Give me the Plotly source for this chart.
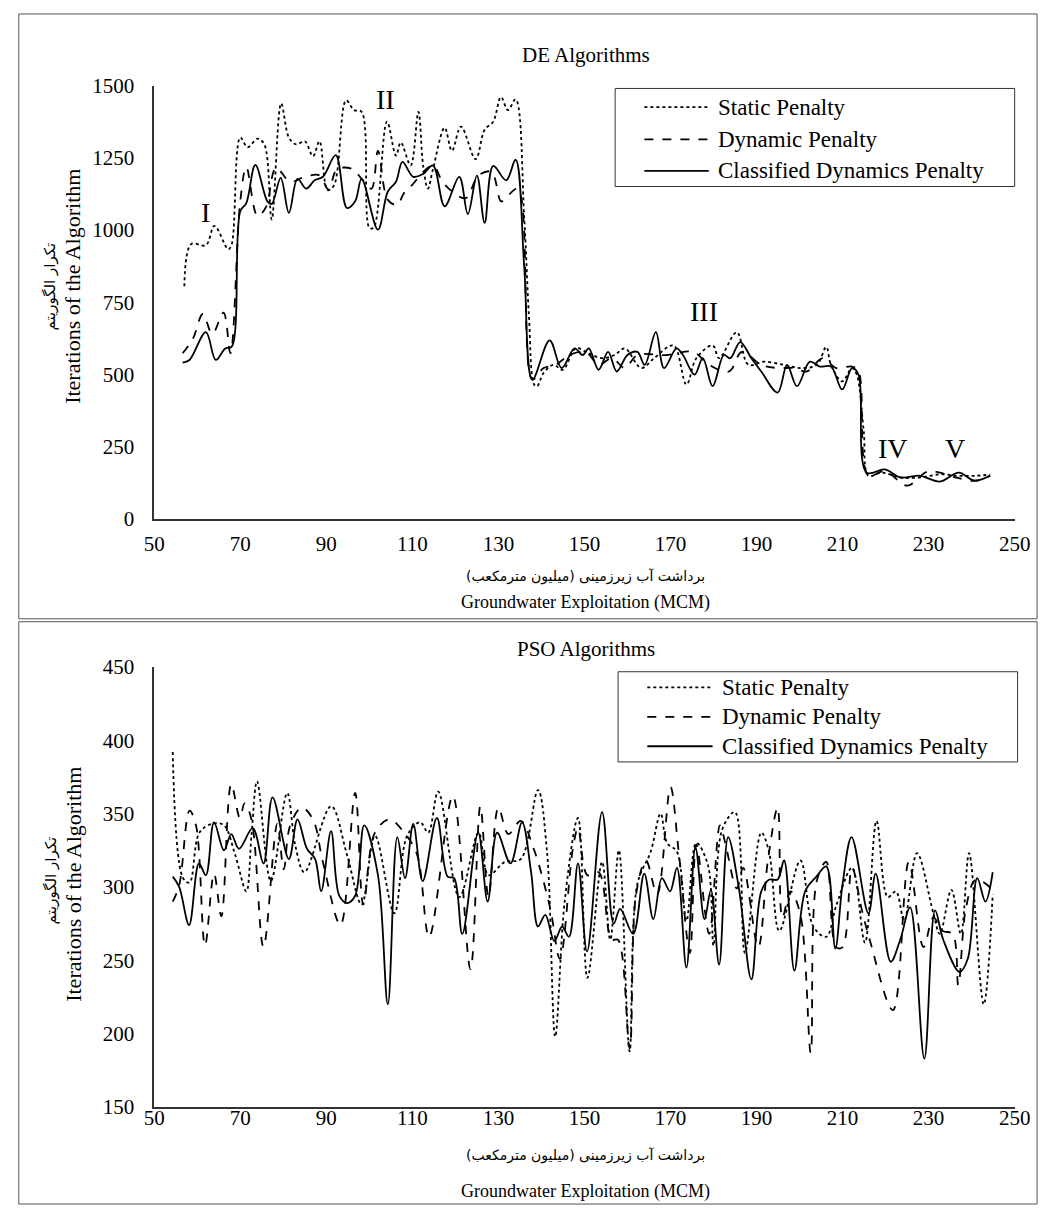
import plotly.graph_objects as go

W, H = 1056, 1218

# ---------------- DATA ----------------
legend_names = ["Static Penalty", "Dynamic Penalty", "Classified Dynamics Penalty"]

# DE Algorithms
de_static_x = [57, 58.6, 62, 64, 67.2, 68, 70, 71.7, 74, 75.6, 77.3, 79.5, 81.3, 83, 85, 86.9, 88.4, 90.3, 91.8, 94.6,
               96.4, 98.2, 100, 101, 104.1, 106.2, 107.3, 109.6, 111.4, 112.5, 113.6, 114.8, 117.5, 119.2, 121.3, 124.7,
               126.8, 128.8, 130.6, 132.2, 134, 136, 137.1, 138.3, 139, 140.5, 142.8, 145, 148, 151, 154, 157, 159.4,
               163.2, 166.2, 170.7, 173.7, 176, 179.8, 181.3, 185.4, 188.1, 191.8, 196.3, 200.2, 204, 206.2, 207.3,
               209.9, 212.2, 213.3, 214.9, 216, 219, 223.5, 228, 232.6, 237, 241, 244.3]
de_static_y = [805, 951, 947, 1014, 933, 950, 1320, 1286, 1316, 1296, 1036, 1438, 1320, 1296, 1307, 1255, 1307, 1138,
               1155, 1449, 1415, 1409, 1008, 1008, 1375, 1257, 1303, 1223, 1409, 1223, 1143, 1211, 1354, 1274, 1358,
               1245, 1347, 1375, 1460, 1415, 1452, 1042, 702, 465, 459, 505, 533, 516, 590, 573, 556, 567, 590, 522,
               556, 600, 465, 556, 600, 556, 646, 533, 544, 533, 522, 533, 595, 533, 476, 522, 499, 306, 149, 160, 143,
               143, 154, 149, 149, 153]

de_dynamic_x = [56.6, 59, 61.3, 63.5, 66.1, 67.7, 70, 71.4, 74, 76, 78.3, 81.6, 85, 88.4, 90.5, 92.5, 96, 98.2, 100.5,
                102, 104.3, 106.5, 108, 110.2, 112.5, 114.8, 117, 119.3, 122.4, 125.4, 128.4, 130.6, 131.7, 134.5,
                137.9, 140.5, 143.3, 146.5, 150.3, 153.3, 156.4, 159.4, 162.3, 169, 175.2, 179, 183.6, 186.6, 191.1,
                194.9, 198.6, 201.7, 205.4, 208.5, 212.2, 213.7, 216, 219.8, 225, 229.6, 232.6, 236.4, 241, 244.3]
de_dynamic_y = [573, 624, 709, 640, 714, 573, 1100, 1218, 1048, 1080, 1215, 1167, 1184, 1189, 1140, 1210, 1211, 1177,
                1143, 1274, 1104, 1087, 1126, 1160, 1201, 1223, 1167, 1133, 1110, 1189, 1201, 1099, 1110, 1143, 482,
                522, 533, 567, 578, 533, 556, 522, 567, 567, 578, 533, 510, 578, 533, 522, 522, 510, 556, 522, 527,
                510, 149, 166, 115, 163, 160, 143, 132, 149]

de_classified_x = [56.6, 58.2, 62, 64.3, 66.5, 68, 70, 71.4, 73.5, 76.3, 77.3, 79.4, 81.3, 83.3, 85.3, 87.3, 89.2,
                   92.2, 94.8, 96.7, 98.2, 102, 104.3, 106.2, 107.7, 110.2, 112.5, 114.8, 117.5, 120.9, 122.9, 125,
                   126.8, 128.8, 131.8, 134, 136, 137.9, 141.9, 144.7, 147.7, 149.6, 151, 153.3, 155.5, 157.5, 160,
                   162.3, 164, 166.6, 168.5, 171.4, 172.9, 175.6, 177.5, 179.8, 182.4, 183.9, 186.2, 188.8, 191.1,
                   194.9, 197.1, 199.4, 202.4, 204.7, 207.3, 209.9, 212.2, 213.7, 215.6, 219.8, 223.5, 228, 232.6,
                   237, 240.7, 244.3]
de_classified_y = [541, 550, 646, 550, 590, 596, 1065, 1093, 1225, 1099, 1090, 1180, 1059, 1177, 1143, 1172, 1184,
                   1259, 1076, 1099, 1177, 1001, 1133, 1167, 1236, 1184, 1194, 1223, 1082, 1184, 1055, 1188, 1025,
                   1222, 1172, 1243, 872, 482, 618, 522, 590, 567, 590, 516, 578, 510, 567, 578, 533, 646, 522, 590,
                   567, 499, 556, 459, 567, 556, 612, 556, 510, 437, 533, 459, 544, 527, 527, 448, 522, 499, 160,
                   171, 143, 149, 129, 160, 132, 150]

# PSO Algorithms
pso_static_x = [54.3, 56.7, 58.2, 60.5, 63.5, 66.2, 68.8, 71.4, 72.6, 73.9, 77.1, 80.9, 82.8, 84.9, 91.1, 94.8, 98.2,
                101.3, 105.8, 108.8, 111.8, 113.7, 116, 120.9, 125.4, 127.7, 131.5, 135.2, 139.2, 141.3, 143.2,
                145.4, 148.5, 150.7, 154.1, 156, 158, 160.5, 162.3, 165.4, 167.7, 169.2, 171.5, 173.7, 176, 178.7,
                180, 182, 185, 187.3, 191.1, 192.9, 195.3, 200.2, 203.2, 206.2, 208.6, 212.2, 215.2, 217.9, 220.5,
                222.4, 224.3, 227.3, 231.1, 232.6, 235.3, 237.5, 239.4, 242.8, 244.9]
pso_static_y = [392, 306, 303, 337, 343, 342, 322, 297, 335, 372, 304, 364, 328, 310, 355, 322, 288, 335, 282, 335,
                344, 337, 365, 293, 337, 308, 317, 319, 366, 324, 198, 290, 347, 238, 317, 264, 325, 188, 302, 324,
                350, 330, 324, 277, 330, 315, 260, 339, 351, 255, 337, 324, 270, 318, 273, 266, 288, 313, 262, 345,
                293, 297, 277, 323, 282, 268, 298, 268, 323, 220, 295]

pso_dynamic_x = [54.3, 55.8, 58.2, 59.7, 61.8, 63.9, 65.6, 67.9, 69.9, 71, 72.6, 75.4, 78.6, 80.1, 81.6, 84.3, 86.9,
                 89.2, 93.3, 96.7, 98.6, 101.3, 104.7, 108.1, 111.1, 113.9, 119.4, 123.5, 125.8, 127.7, 130, 132.3,
                 135.2, 138.2, 142, 144.3, 147.3, 148.5, 150.7, 153.3, 156.3, 157.8, 160.5, 162, 164.3, 166.9, 170,
                 171.9, 174.5, 176, 179, 181.5, 182.8, 185.4, 186.9, 190.4, 192.6, 194.9, 196, 197.9, 200.2, 202.6,
                 204, 206.2, 208.5, 210, 212.2, 214.5, 216.4, 221.7, 225.4, 228.8, 231.1, 233.3, 235.6, 236.9,
                 238.7, 241, 244.9]
pso_dynamic_y = [290, 301, 352, 342, 260, 309, 280, 370, 347, 357, 346, 259, 343, 312, 342, 354, 346, 317, 274, 364,
                 288, 337, 346, 337, 322, 266, 362, 244, 355, 293, 354, 336, 345, 326, 286, 251, 326, 340, 308, 310,
                 264, 264, 190, 295, 318, 295, 368, 324, 255, 329, 268, 342, 329, 299, 313, 259, 317, 354, 279, 297,
                 281, 187, 304, 317, 259, 259, 313, 284, 263, 216, 317, 259, 279, 270, 268, 233, 286, 305, 298]

pso_classified_x = [54.3, 55.8, 58.1, 60.4, 62, 63.9, 66.2, 67.9, 69.7, 72.9, 75.4, 77.5, 81.3, 83.3, 85.5, 87.4,
                    88.8, 91.1, 93, 94.8, 96.7, 98.8, 102, 104.3, 106.5, 108.3, 110.2, 112.4, 115.7, 118.2, 119.7,
                    121.6, 125.3, 127.5, 129.7, 132.8, 135.5, 137.6, 139.2, 140.9, 143, 144.8, 146.4, 148.5, 150.6,
                    154.1, 156.8, 158.3, 161.3, 163.9, 166, 168, 169.9, 171.5, 173.7, 175.8, 177.9, 179.4, 181.3,
                    183.4, 185.9, 188.8, 191.1, 193, 194.9, 196.4, 198.8, 201.3, 203.9, 206.2, 208.3, 210, 212.1,
                    216, 217.7, 221.2, 223.4, 225.7, 229, 231.5, 233.4, 237.2, 239.1, 241.3, 243.2, 244.9]
pso_classified_y = [307, 300, 274, 316, 308, 344, 325, 336, 326, 340, 316, 361, 319, 346, 326, 319, 297, 338, 294,
                    289, 294, 342, 308, 220, 334, 306, 343, 304, 347, 307, 306, 268, 337, 290, 337, 316, 344, 310,
                    273, 281, 263, 273, 266, 316, 256, 351, 275, 285, 268, 309, 278, 306, 297, 313, 245, 327, 278,
                    298, 247, 334, 299, 237, 297, 305, 305, 318, 243, 297, 307, 314, 258, 302, 334, 282, 309, 249,
                    264, 286, 183, 284, 264, 242, 251, 306, 290, 310]

x_range = [50, 250]
x_dtick = 20
de_y_range = [0, 1500]
de_y_dtick = 250
pso_y_range = [150, 450]
pso_y_dtick = 50

de_title = "DE Algorithms"
pso_title = "PSO Algorithms"
y_title_fa = "تکرار الگوریتم"
y_title_en = "Iterations of the Algorithm"
x_title_fa = "برداشت آب زیرزمینی (میلیون مترمکعب)"
x_title_en = "Groundwater Exploitation (MCM)"
region_labels = ["I", "II", "III", "IV", "V"]
region_x = [61.8, 103.7, 177.7, 221.7, 236.2]
region_y = [1062, 1452, 719, 244, 244]

# ---------------- STYLE / LAYOUT ----------------
SERIF = "Liberation Serif, Times New Roman, serif"
FA = "DejaVu Sans, Noto Sans, sans-serif"
dashes = ["dot", "dash", "solid"]


def px(x):
    return x / W


def py(y):
    return 1 - y / H


fig = go.Figure()

de_series = [(de_static_x, de_static_y), (de_dynamic_x, de_dynamic_y), (de_classified_x, de_classified_y)]
pso_series = [(pso_static_x, pso_static_y), (pso_dynamic_x, pso_dynamic_y), (pso_classified_x, pso_classified_y)]

for (xs, ys), name, d in zip(de_series, legend_names, dashes):
    fig.add_trace(go.Scatter(x=xs, y=ys, mode="lines", name=name, showlegend=False,
                             line=dict(color="black", width=1.8, dash=d, shape="spline", smoothing=1.0),
                             xaxis="x", yaxis="y"))
for (xs, ys), name, d in zip(pso_series, legend_names, dashes):
    fig.add_trace(go.Scatter(x=xs, y=ys, mode="lines", name=name, showlegend=False,
                             line=dict(color="black", width=1.8, dash=d, shape="spline", smoothing=1.0),
                             xaxis="x2", yaxis="y2"))

axis_common = dict(showline=True, linecolor="#333333", linewidth=1.5, showgrid=False, zeroline=False,
                   ticks="", tickfont=dict(family=SERIF, size=21, color="black"), fixedrange=True)

top = (75, 517)
bot = (668, 1117)
xl, xr = 147, 1030

fig.update_layout(
    width=W, height=H, autosize=False,
    margin=dict(l=0, r=0, t=0, b=0),
    paper_bgcolor="white", plot_bgcolor="white",
    showlegend=False,
    xaxis=dict(domain=[px(xl), px(xr)], anchor="y", range=x_range, dtick=x_dtick, tick0=50,
               ticklabelstandoff=5, **axis_common),
    yaxis=dict(domain=[py(top[1]), py(top[0])], anchor="x", range=de_y_range, dtick=de_y_dtick,
               ticklabelstandoff=14, **axis_common),
    xaxis2=dict(domain=[px(xl), px(xr)], anchor="y2", range=x_range, dtick=x_dtick, tick0=50,
                ticklabelstandoff=-9, **axis_common),
    yaxis2=dict(domain=[py(bot[1]), py(bot[0])], anchor="x2", range=pso_y_range, dtick=pso_y_dtick,
                ticklabelstandoff=14, **axis_common),
)

shapes = []
# panel borders
shapes.append(dict(type="rect", xref="paper", yref="paper", x0=px(8), x1=px(1053), y0=py(619), y1=py(2),
                   line=dict(color="#555555", width=1)))
shapes.append(dict(type="rect", xref="paper", yref="paper", x0=px(8), x1=px(1053), y0=py(1216), y1=py(622),
                   line=dict(color="#555555", width=1)))

annotations = []


def legend_box(box, rows, line_x, text_x):
    x0, y0, x1, y1 = box
    shapes.append(dict(type="rect", xref="paper", yref="paper", x0=px(x0), x1=px(x1), y0=py(y1), y1=py(y0),
                       line=dict(color="#333333", width=1), fillcolor="white", layer="above"))
    for name, d, ry in zip(legend_names, dashes, rows):
        shapes.append(dict(type="line", xref="paper", yref="paper", x0=px(line_x[0]), x1=px(line_x[1]),
                           y0=py(ry), y1=py(ry), line=dict(color="black", width=1.8, dash=d)))
        annotations.append(dict(xref="paper", yref="paper", x=px(text_x), y=py(ry), text=name, showarrow=False,
                                xanchor="left", yanchor="middle", font=dict(family=SERIF, size=23, color="black")))


legend_box((620, 78, 1030, 178), (97, 130, 162), (650, 716), 724)
legend_box((623, 673, 1033, 765), (689, 719, 749), (653, 720), 728)


def text(x, y, t, size, family=SERIF, angle=0):
    annotations.append(dict(xref="paper", yref="paper", x=px(x), y=py(y), text=t, showarrow=False,
                            xanchor="center", yanchor="middle", textangle=angle,
                            font=dict(family=family, size=size, color="black")))


# titles
text(590, 44, de_title, 21)
text(590, 650, pso_title, 21)
# y titles
text(41, 280, y_title_fa, 15, FA, -90)
text(63, 280, y_title_en, 22, SERIF, -90)
text(41, 886, y_title_fa, 15, FA, -90)
text(64, 890, y_title_en, 22, SERIF, -90)
# x titles
text(590, 576, x_title_fa, 14, FA)
text(590, 602, x_title_en, 18)
text(590, 1166, x_title_fa, 14, FA)
text(590, 1203, x_title_en, 18)

# region labels (DE chart), in data coordinates
for lab, rx, ry in zip(region_labels, region_x, region_y):
    annotations.append(dict(xref="x", yref="y", x=rx, y=ry, text=lab, showarrow=False,
                            font=dict(family=SERIF, size=28, color="black")))

fig.update_layout(shapes=shapes, annotations=annotations)

fig.write_html("out.html", config={"displayModeBar": False},
               post_script="document.body.style.margin='0';document.body.style.overflow='hidden';")
